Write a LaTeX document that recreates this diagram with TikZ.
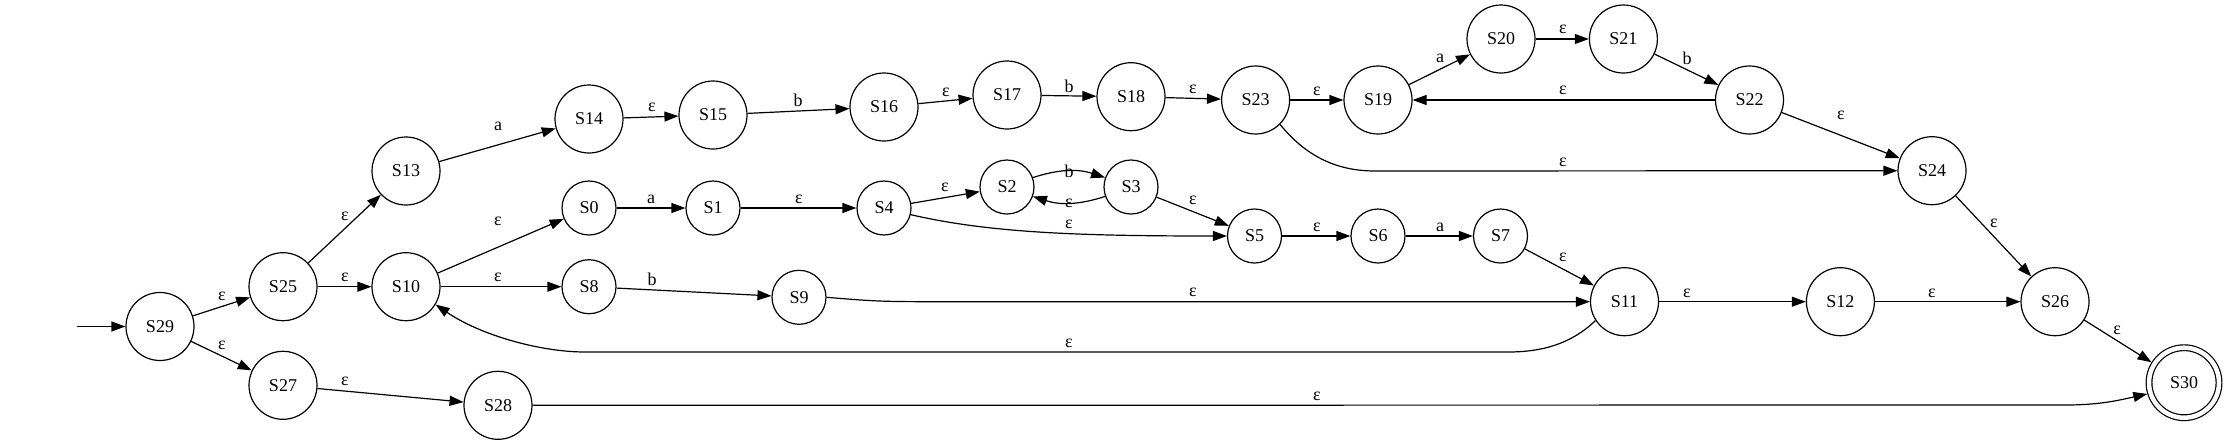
\documentclass[tikz,border=0pt]{standalone}
\usepackage{fontspec}
\setmainfont{Liberation Serif}
\usetikzlibrary{arrows.meta}
\begin{document}
\begin{tikzpicture}[x=1pt,y=-1pt,
  st/.style={circle,draw,line width=1.2pt,inner sep=0pt,minimum size=68pt,font=\fontsize{18}{20}\selectfont},
  sm/.style={st,minimum size=54pt},
  fin/.style={st,double,double distance=4.5pt,minimum size=70pt,outer sep=3.4pt},
  e/.style={-{Triangle[length=14pt,width=10pt]},line width=1.2pt},
  lb/.style={inner sep=0pt,font=\fontsize{18}{20}\selectfont}]
\useasboundingbox (0,0) rectangle (2229,445);
% nodes
\node[st] (S29) at (160,326.5) {S29};
\node[st] (S25) at (283,286.7) {S25};
\node[st] (S13) at (406,171) {S13};
\node[st] (S10) at (406,286.7) {S10};
\node[st] (S27) at (283,385.3) {S27};
\node[st] (S28) at (498,405.3) {S28};
\node[st] (S14) at (589,119) {S14};
\node[st] (S15) at (713,115) {S15};
\node[st] (S16) at (884,107) {S16};
\node[st] (S17) at (1007,95) {S17};
\node[st] (S18) at (1131,96.7) {S18};
\node[st] (S23) at (1255.6,100) {S23};
\node[st] (S19) at (1378,100) {S19};
\node[st] (S20) at (1501,39) {S20};
\node[st] (S21) at (1623.4,39) {S21};
\node[st] (S22) at (1749.5,100) {S22};
\node[st] (S24) at (1932,170.7) {S24};
\node[sm] (S0) at (589,208) {S0};
\node[sm] (S1) at (713,208) {S1};
\node[sm] (S4) at (884,208) {S4};
\node[sm] (S2) at (1007,187) {S2};
\node[sm] (S3) at (1131,187) {S3};
\node[sm] (S8) at (589,286.7) {S8};
\node[sm] (S9) at (799,297.3) {S9};
\node[sm] (S5) at (1254.5,236) {S5};
\node[sm] (S6) at (1378,236) {S6};
\node[sm] (S7) at (1500.5,236) {S7};
\node[st] (S11) at (1624.5,301.7) {S11};
\node[st] (S12) at (1840.4,301.7) {S12};
\node[st] (S26) at (2055,301.7) {S26};
\node[fin] (S30) at (2184,382.7) {S30};
\coordinate (start) at (77,326.5);
% edges
\draw[e] (start) -- (S29);
\draw[e] (S29) -- (S25) node[lb,at={(222,296)}] {ε};
\draw[e] (S29) -- (S27) node[lb,at={(222,345)}] {ε};
\draw[e] (S25) -- (S13) node[lb,at={(345,216)}] {ε};
\draw[e] (S25) -- (S10) node[lb,at={(345,277)}] {ε};
\draw[e] (S27) -- (S28) node[lb,at={(345,381)}] {ε};
\draw[e] (S13) -- (S14) node[lb,at={(498,126)}] {a};
\draw[e] (S14) -- (S15) node[lb,at={(652,107)}] {ε};
\draw[e] (S15) -- (S16) node[lb,at={(798,100)}] {b};
\draw[e] (S16) -- (S17) node[lb,at={(946,92)}] {ε};
\draw[e] (S17) -- (S18) node[lb,at={(1069,86)}] {b};
\draw[e] (S18) -- (S23) node[lb,at={(1193,89)}] {ε};
\draw[e] (S23) -- (S19) node[lb,at={(1317,91)}] {ε};
\draw[e] (S19) -- (S20) node[lb,at={(1440,58)}] {a};
\draw[e] (S20) -- (S21) node[lb,at={(1563,29)}] {ε};
\draw[e] (S21) -- (S22) node[lb,at={(1687,58)}] {b};
\draw[e] (S22) -- (S19) node[lb,at={(1563,90)}] {ε};
\draw[e] (S22) -- (S24) node[lb,at={(1841,115)}] {ε};
\draw[e] (S23.-45) .. controls (1305,155) and (1335,171) .. (1375,171) -- (S24.west) node[lb,at={(1563,162)}] {ε};
\draw[e] (S10) -- (S0) node[lb,at={(498,221)}] {ε};
\draw[e] (S10) -- (S8) node[lb,at={(498,277)}] {ε};
\draw[e] (S0) -- (S1) node[lb,at={(651,199)}] {a};
\draw[e] (S1) -- (S4) node[lb,at={(799,199)}] {ε};
\draw[e] (S4) -- (S2) node[lb,at={(945,187)}] {ε};
\draw[e] (S2.20) to[bend left=18] node[lb,at={(1069,163)}] {b} (S3.160);
\draw[e] (S3.200) to[bend left=18] node[lb,at={(1069,186)}] {ε} (S2.-20);
\draw[e] (S3) -- (S5) node[lb,at={(1193,200)}] {ε};
\draw[e] (S4.-14) .. controls (990,233) and (1080,236) .. (S5.west) node[lb,at={(1069,224)}] {ε};
\draw[e] (S8) -- (S9) node[lb,at={(652,279)}] {b};
\draw[e] (S9.east) .. controls (880,301.7) .. (960,301.7) -- (S11.west) node[lb,at={(1193,292)}] {ε};
\draw[e] (S5) -- (S6) node[lb,at={(1317,227)}] {ε};
\draw[e] (S6) -- (S7) node[lb,at={(1440,227)}] {a};
\draw[e] (S7) -- (S11) node[lb,at={(1563,257)}] {ε};
\draw[e] (S11) -- (S12) node[lb,at={(1687,293)}] {ε};
\draw[e] (S12) -- (S26) node[lb,at={(1932,293)}] {ε};
\draw[e] (S24) -- (S26) node[lb,at={(1994,223)}] {ε};
\draw[e] (S26) -- (S30) node[lb,at={(2117,330)}] {ε};
\draw[e] (S11.213) .. controls (1570,345) and (1540,352) .. (1508,352) -- (585,352) .. controls (540,352) and (480,335) .. (S10.-31) node[lb,at={(1069,343)}] {ε};
\draw[e] (S28.east) -- (2066,405) .. controls (2100,405) and (2120,400) .. (S30.197) node[lb,at={(1317,396)}] {ε};
\end{tikzpicture}
\end{document}
